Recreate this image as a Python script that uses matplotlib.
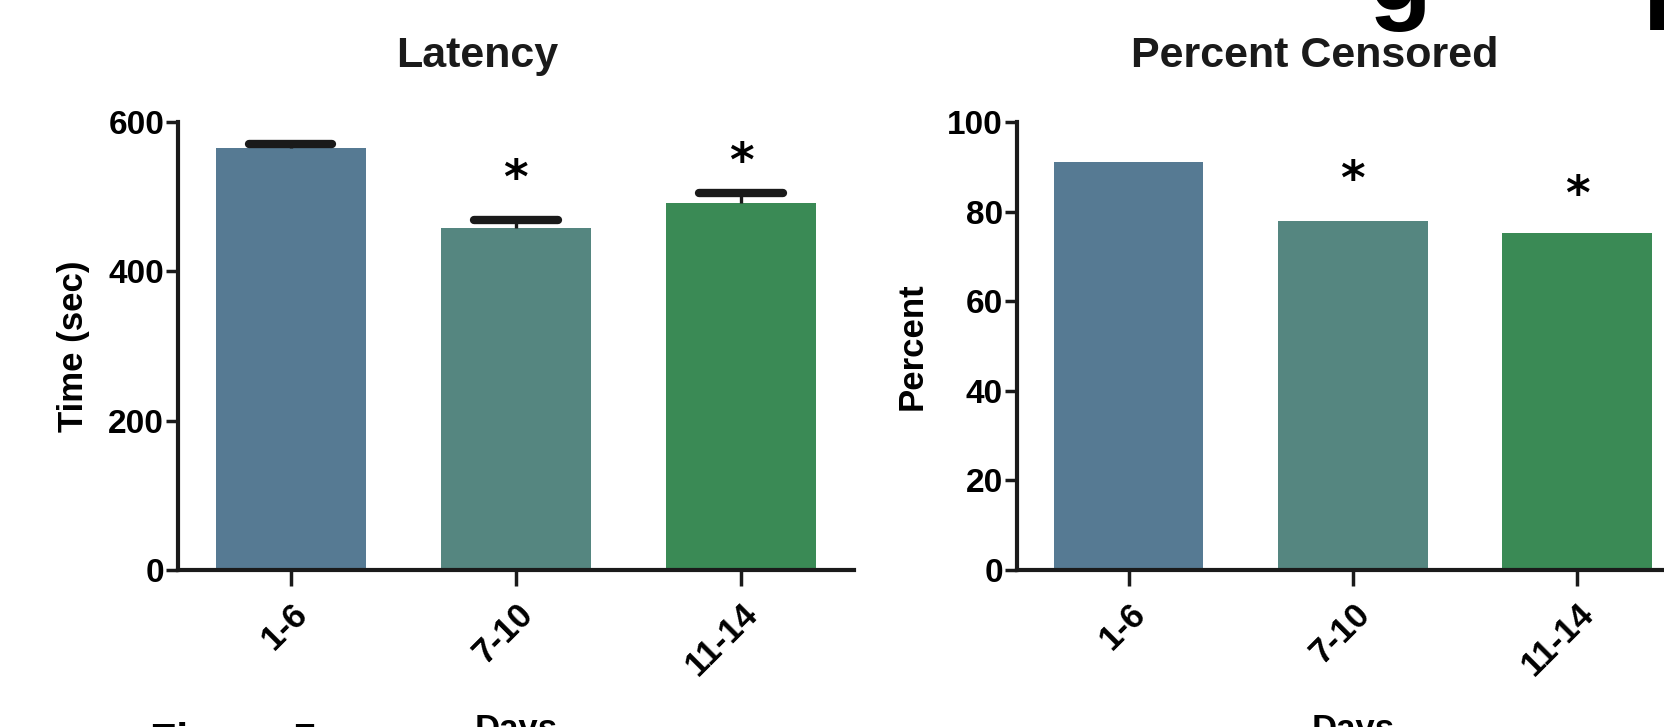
import matplotlib
matplotlib.use("Agg")
import matplotlib.pyplot as plt

plt.rcParams['font.family'] = ['Liberation Sans', 'DejaVu Sans']
plt.rcParams['font.weight'] = 'bold'
plt.rcParams['text.color'] = '#1a1a1a'

# data
days = ['1-6', '7-10', '11-14']
latency_mean = [565, 458, 491]
latency_sem = [6, 11, 14]
latency_star = [None, 522, 544]
censored_pct = [91.0, 78.0, 75.3]
censored_star = [None, 86.8, 83.4]

bar_colors = ['#567a93', '#558680', '#3a8a55']
ink = '#1a1a1a'

fig = plt.figure(figsize=(16.64, 7.27), dpi=100)
ax1 = fig.add_axes([0.107, 0.216, 0.406, 0.616])
ax2 = fig.add_axes([0.611, 0.216, 0.404, 0.616])

x = list(range(len(days)))


def style_axis(ax, ymax, yticks, ylabel, title, labelpad):
    for s in ['top', 'right']:
        ax.spines[s].set_visible(False)
    for s in ['left', 'bottom']:
        ax.spines[s].set_linewidth(3)
        ax.spines[s].set_color(ink)
    ax.set_xlim(-0.5, 2.5)
    ax.set_ylim(0, ymax)
    ax.set_yticks(yticks)
    ax.set_yticklabels([str(t) for t in yticks], fontsize=24, fontweight='bold')
    ax.set_xticks(x)
    ax.set_xticklabels(days, fontsize=25, fontweight='bold', rotation=45,
                       ha='right', va='top', rotation_mode='anchor')
    ax.tick_params(axis='y', length=9, width=2.5, pad=1, color=ink)
    ax.tick_params(axis='x', length=11.5, width=2.5, pad=8, color=ink)
    ax.set_ylabel(ylabel, fontsize=25, fontweight='bold', labelpad=labelpad)
    ax.set_xlabel('Days', fontsize=25, fontweight='bold', labelpad=22)
    ax.set_title(title, fontsize=31, fontweight='bold', pad=40, x=0.443)


def stars(ax, ys):
    for xi, y in zip(x, ys):
        if y is not None:
            ax.text(xi, y, '*', ha='center', va='center', fontsize=34,
                    fontweight='bold', family='DejaVu Sans', color='black')


# Latency panel
ax1.bar(x, latency_mean, width=0.667, color=bar_colors, zorder=2)
ax1.vlines(x, latency_mean, [m + e for m, e in zip(latency_mean, latency_sem)],
           color=ink, lw=2.4, zorder=3)
caps = ax1.hlines([m + e for m, e in zip(latency_mean, latency_sem)],
                  [xi - 0.185 for xi in x], [xi + 0.185 for xi in x],
                  color=ink, lw=6, zorder=4)
caps.set_capstyle('round')
stars(ax1, latency_star)
style_axis(ax1, 600, [0, 200, 400, 600], 'Time (sec)', 'Latency', 13)

# Percent censored panel
ax2.bar(x, censored_pct, width=0.667, color=bar_colors, zorder=2)
stars(ax2, censored_star)
style_axis(ax2, 100, [0, 20, 40, 60, 80, 100], 'Percent', 'Percent Censored', 13)

# fragments of surrounding page text cut by the crop
fig.text(0.09, 0.0069, 'Figure 5', fontsize=31, fontweight='bold', va='top',
         color='black')
fig.text(1369 / 1664, 1 - 10 / 727, 'g', fontsize=74, fontweight='bold',
         va='baseline', color='black')
fig.text(1642 / 1664, 1 - 8 / 727, 'p', fontsize=74, fontweight='bold',
         va='baseline', color='black')

fig.savefig('out.png', dpi=100, facecolor='white')
